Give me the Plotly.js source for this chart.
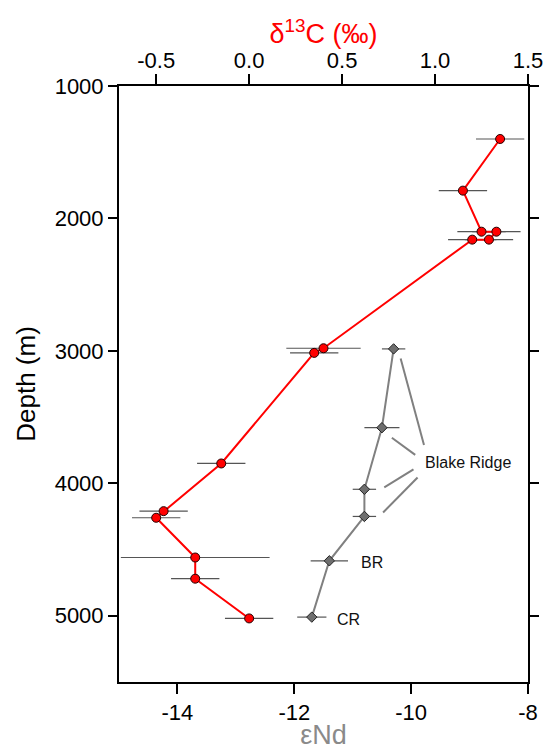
<!DOCTYPE html>
<html>
<head>
<meta charset="utf-8">
<script src="https://cdn.plot.ly/plotly-3.0.1.min.js"></script>
<style>
  html, body { margin: 0; padding: 0; background: #ffffff; }
  #chart { width: 543px; height: 750px; }
</style>
</head>
<body>
<div id="chart"></div>
<script>
// ---- data ----
const depthC   = [1400, 1790, 2100, 2100, 2160, 2160, 2980, 3015, 3850, 4210, 4260, 4560, 4720, 5020];
const d13C     = [1.35, 1.15, 1.25, 1.33, 1.29, 1.20, 0.40, 0.35, -0.15, -0.46, -0.50, -0.29, -0.29, 0.00];
const d13CErr  = [0.13, 0.13, 0.13, 0.13, 0.13, 0.13, 0.20, 0.13, 0.13, 0.13, 0.13, 0.40, 0.13, 0.13];

const depthNd  = [2985, 3580, 4045, 4250, 4585, 5010];
const eNd      = [-10.3, -10.5, -10.8, -10.8, -11.4, -11.7];
const eNdErr   = [0.20, 0.30, 0.20, 0.20, 0.32, 0.25];

const depthTicks = [1000, 2000, 3000, 4000, 5000];
const eNdTicks   = [-14, -12, -10, -8];
const d13CTicks  = [-0.5, 0.0, 0.5, 1.0, 1.5];

const labelTexts = ["Blake Ridge", "BR", "CR"];
const labelX     = [-9.80, -10.90, -11.31];
const labelY     = [3845, 4600, 5025];

// leader lines from "Blake Ridge" label to its four samples (εNd, depth)
const leaderX0 = [-10.18, -10.33, -10.46, -10.48];
const leaderY0 = [3057, 3656, 4031, 4220];
const leaderX1 = [-9.78, -9.93, -9.96, -9.89];
const leaderY1 = [3711, 3785, 3895, 3956];

const FONT = "Liberation Sans, Arial, Helvetica, sans-serif";

const traceNd = {
  x: eNd, y: depthNd, xaxis: 'x', yaxis: 'y',
  mode: 'lines+markers', type: 'scatter',
  line: { color: '#808080', width: 2 },
  marker: { symbol: 'diamond', size: 8, color: '#6e6e6e', line: { color: '#222222', width: 1 } },
  error_x: { type: 'data', array: eNdErr, visible: true, color: '#555555', thickness: 1.2, width: 0 },
  hoverinfo: 'skip', showlegend: false
};

const traceC = {
  x: d13C, y: depthC, xaxis: 'x2', yaxis: 'y',
  mode: 'lines+markers', type: 'scatter',
  line: { color: '#ff0000', width: 2 },
  marker: { symbol: 'circle', size: 9, color: '#ff0000', line: { color: '#220000', width: 1 } },
  error_x: { type: 'data', array: d13CErr, visible: true, color: '#555555', thickness: 1.2, width: 0 },
  hoverinfo: 'skip', showlegend: false
};

const shapes = leaderX0.map((v, i) => ({
  type: 'line', xref: 'x', yref: 'y',
  x0: v, y0: leaderY0[i], x1: leaderX1[i], y1: leaderY1[i],
  line: { color: '#808080', width: 2 }
}));

const annotations = labelTexts.map((t, i) => ({
  text: t, x: labelX[i], y: labelY[i], xref: 'x', yref: 'y',
  xanchor: 'left', yanchor: 'middle', showarrow: false,
  font: { family: FONT, size: 16, color: '#111111' }
}));

const layout = {
  width: 543, height: 750,
  margin: { l: 119, r: 15, t: 86, b: 68, pad: 0 },
  paper_bgcolor: '#ffffff', plot_bgcolor: '#ffffff',
  font: { family: FONT, color: '#000000' },
  showlegend: false,
  // title of the top (δ13C) axis
  title: {
    text: 'δ<sup>13</sup>C (‰)', xref: 'paper', x: 0.5, xanchor: 'center',
    yref: 'container', y: 1 - 34 / 750, yanchor: 'middle',
    font: { family: FONT, size: 27, color: '#ff0000' }
  },
  xaxis: {
    range: [-15, -8], tickvals: eNdTicks, ticktext: eNdTicks.map(String),
    side: 'bottom', showgrid: false, zeroline: false,
    showline: true, linecolor: '#000000', linewidth: 2,
    ticks: 'outside', ticklen: 10, tickwidth: 2, tickcolor: '#000000',
    ticklabeloverflow: 'allow',
    tickfont: { family: FONT, size: 22, color: '#000000' },
    title: { text: 'εNd', font: { family: FONT, size: 27, color: '#8a8a8a' }, standoff: 0 },
    automargin: false
  },
  xaxis2: {
    range: [-0.7, 1.5], tickvals: d13CTicks, ticktext: d13CTicks.map(v => v.toFixed(1)),
    overlaying: 'x', side: 'top', anchor: 'y',
    showgrid: false, zeroline: false,
    showline: true, linecolor: '#000000', linewidth: 2,
    ticks: 'outside', ticklen: 10, tickwidth: 2, tickcolor: '#000000',
    ticklabeloverflow: 'allow', ticklabelstandoff: -3,
    tickfont: { family: FONT, size: 22, color: '#000000' },
    automargin: false
  },
  yaxis: {
    range: [5500, 1000], tickvals: depthTicks, ticktext: depthTicks.map(String),
    showgrid: false, zeroline: false,
    showline: true, linecolor: '#000000', linewidth: 2, mirror: 'ticks',
    ticks: 'outside', ticklen: 9, tickwidth: 2, tickcolor: '#000000',
    tickfont: { family: FONT, size: 22, color: '#000000' },
    title: { text: 'Depth (m)', font: { family: FONT, size: 26, color: '#000000' }, standoff: 12 },
    automargin: false
  },
  shapes: shapes,
  annotations: annotations
};

Plotly.newPlot('chart', [traceNd, traceC], layout, { displayModeBar: false, staticPlot: true });
</script>
</body>
</html>
